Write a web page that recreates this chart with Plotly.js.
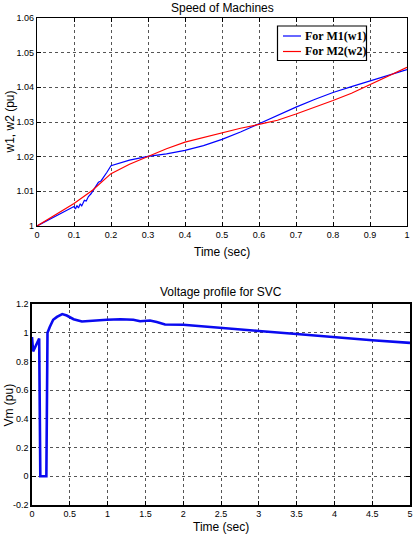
<!DOCTYPE html>
<html>
<head>
<meta charset="utf-8">
<script src="https://cdn.plot.ly/plotly-3.0.1.min.js"></script>
<style>
html,body{margin:0;padding:0;background:#fff;}
#chart{width:414px;height:534px;}
</style>
</head>
<body>
<div id="chart"></div>
<script>
// ---- Speed of Machines ----
const tW1 = [0, 0.1, 0.104, 0.108, 0.112, 0.117, 0.121, 0.128, 0.133, 0.139, 0.146, 0.153, 0.160, 0.166, 0.173, 0.180, 0.189, 0.2, 0.25, 0.3, 0.35, 0.4, 0.45, 0.5, 0.55, 0.6, 0.65, 0.7, 0.75, 0.8, 0.85, 0.9, 0.95, 1.0];
const w1 = [1.0, 1.0056, 1.0049, 1.0059, 1.0052, 1.0064, 1.0058, 1.0074, 1.0072, 1.0085, 1.0093, 1.0105, 1.0113, 1.0126, 1.0130, 1.0140, 1.0155, 1.0174, 1.0190, 1.0201, 1.0208, 1.0218, 1.0232, 1.0250, 1.0271, 1.0295, 1.0320, 1.0343, 1.0365, 1.0385, 1.0402, 1.0418, 1.0435, 1.0451];
const tW2 = [0, 0.05, 0.1, 0.15, 0.2, 0.25, 0.3, 0.35, 0.4, 0.45, 0.5, 0.55, 0.6, 0.65, 0.7, 0.75, 0.8, 0.85, 0.9, 0.95, 1.0];
const w2 = [1.0, 1.0033, 1.0065, 1.0103, 1.0151, 1.0178, 1.0201, 1.0223, 1.0242, 1.0256, 1.0268, 1.0282, 1.0293, 1.0305, 1.0323, 1.0342, 1.0362, 1.0383, 1.0408, 1.0432, 1.0458];
const seriesNames = ["For M1(w1)", "For M2(w2)"];
const seriesColors = ["#0000ff", "#ff0000"];
const topXTicks = [0, 0.1, 0.2, 0.3, 0.4, 0.5, 0.6, 0.7, 0.8, 0.9, 1];
const topXLabels = ["0", "0.1", "0.2", "0.3", "0.4", "0.5", "0.6", "0.7", "0.8", "0.9", "1"];
const topYTicks = [1, 1.01, 1.02, 1.03, 1.04, 1.05, 1.06];
const topYLabels = ["1", "1.01", "1.02", "1.03", "1.04", "1.05", "1.06"];

// ---- Voltage profile for SVC ----
const tSvc = [0, 0.015, 0.095, 0.11, 0.19, 0.205, 0.235, 0.28, 0.33, 0.40, 0.46, 0.55, 0.66, 0.81, 0.99, 1.17, 1.34, 1.43, 1.56, 1.65, 1.76, 2.0, 2.5, 3.0, 3.5, 4.0, 4.5, 5.0];
const vm = [0.97, 0.87, 0.96, 0.0, 0.0, 1.0, 1.04, 1.09, 1.11, 1.13, 1.12, 1.094, 1.078, 1.085, 1.09, 1.094, 1.09, 1.08, 1.085, 1.074, 1.057, 1.055, 1.031, 1.012, 0.991, 0.967, 0.948, 0.929];
const botXTicks = [0, 0.5, 1, 1.5, 2, 2.5, 3, 3.5, 4, 4.5, 5];
const botXLabels = ["0", "0.5", "1", "1.5", "2", "2.5", "3", "3.5", "4", "4.5", "5"];
const botYTicks = [-0.2, 0, 0.2, 0.4, 0.6, 0.8, 1, 1.2];
const botYLabels = ["-0.2", "0", "0.2", "0.4", "0.6", "0.8", "1", "1.2"];

const W = 414, H = 534;
const px = v => v / W;
const py = v => (H - v) / H;

const tickFont = {family: "Liberation Sans, Arial, sans-serif", size: 9, color: "#000"};
const titleFont = {family: "Liberation Sans, Arial, sans-serif", size: 12, color: "#000"};
const legendFont = {family: "Liberation Serif, Times New Roman, serif", size: 12, color: "#000", weight: "bold"};

function axisBase(extra) {
  return Object.assign({
    showline: true, linecolor: "#000", linewidth: 1.2, mirror: "ticks",
    ticks: "inside", ticklen: 4, tickcolor: "#000", tickwidth: 1,
    showgrid: true, gridcolor: "#555", griddash: "dot", gridwidth: 1,
    zeroline: false, tickfont: tickFont, tickmode: "array", fixedrange: true
  }, extra);
}

const traces = [
  {x: tW1, y: w1, type: "scatter", mode: "lines", name: seriesNames[0],
   line: {color: seriesColors[0], width: 1.2}, xaxis: "x", yaxis: "y"},
  {x: tW2, y: w2, type: "scatter", mode: "lines", name: seriesNames[1],
   line: {color: seriesColors[1], width: 1.2}, xaxis: "x", yaxis: "y"},
  {x: tSvc, y: vm, type: "scatter", mode: "lines", name: "Vm",
   line: {color: "#0a0af0", width: 2.6}, xaxis: "x2", yaxis: "y2"}
];

// legend box (MATLAB style), drawn in paper coordinates
const legBox = {x0: 277.5, x1: 366.5, y0: 26, y1: 60.5};
const legRows = [36, 51.5];
const shapes = [
  {type: "rect", xref: "paper", yref: "paper", x0: px(legBox.x0), x1: px(legBox.x1),
   y0: py(legBox.y1), y1: py(legBox.y0), fillcolor: "#fff", line: {color: "#000", width: 1.2}, layer: "above"}
];
const legendAnn = [];
seriesNames.forEach((name, i) => {
  shapes.push({type: "line", xref: "paper", yref: "paper", x0: px(283), x1: px(301),
    y0: py(legRows[i]), y1: py(legRows[i]), line: {color: seriesColors[i], width: 1.2}, layer: "above"});
  legendAnn.push({text: name, x: px(302.5), y: py(legRows[i]), xref: "paper", yref: "paper",
    xanchor: "left", yanchor: "middle", showarrow: false, font: legendFont});
});

const layout = {
  width: W, height: H,
  margin: {l: 0, r: 0, t: 0, b: 0},
  paper_bgcolor: "#fff", plot_bgcolor: "#fff",
  showlegend: false,
  xaxis: axisBase({domain: [px(37), px(407)], range: [0, 1], anchor: "y",
    tickvals: topXTicks, ticktext: topXLabels}),
  yaxis: axisBase({domain: [py(226), py(18)], range: [1, 1.06], anchor: "x",
    tickvals: topYTicks, ticktext: topYLabels}),
  xaxis2: axisBase({domain: [px(32), px(410)], range: [0, 5], anchor: "y2",
    tickvals: botXTicks, ticktext: botXLabels, linewidth: 1.6}),
  yaxis2: axisBase({domain: [py(505), py(304)], range: [-0.2, 1.2], anchor: "x2",
    tickvals: botYTicks, ticktext: botYLabels, linewidth: 1.6}),
  shapes: shapes,
  annotations: [
    {text: "Speed of Machines", x: px(222), y: py(8.5), xref: "paper", yref: "paper",
     xanchor: "center", yanchor: "middle", showarrow: false, font: titleFont},
    {text: "Time (sec)", x: px(222), y: py(252), xref: "paper", yref: "paper",
     xanchor: "center", yanchor: "middle", showarrow: false, font: titleFont},
    {text: "w1, w2 (pu)", x: px(9.5), y: py(122), xref: "paper", yref: "paper",
     xanchor: "center", yanchor: "middle", showarrow: false, textangle: -90, font: titleFont},
    {text: "Voltage profile for SVC", x: px(221), y: py(292), xref: "paper", yref: "paper",
     xanchor: "center", yanchor: "middle", showarrow: false, font: titleFont},
    {text: "Time (sec)", x: px(221), y: py(527), xref: "paper", yref: "paper",
     xanchor: "center", yanchor: "middle", showarrow: false, font: titleFont},
    {text: "Vm (pu)", x: px(8.5), y: py(405), xref: "paper", yref: "paper",
     xanchor: "center", yanchor: "middle", showarrow: false, textangle: -90, font: titleFont}
  ].concat(legendAnn)
};

Plotly.newPlot("chart", traces, layout, {staticPlot: true, displayModeBar: false});
</script>
</body>
</html>
